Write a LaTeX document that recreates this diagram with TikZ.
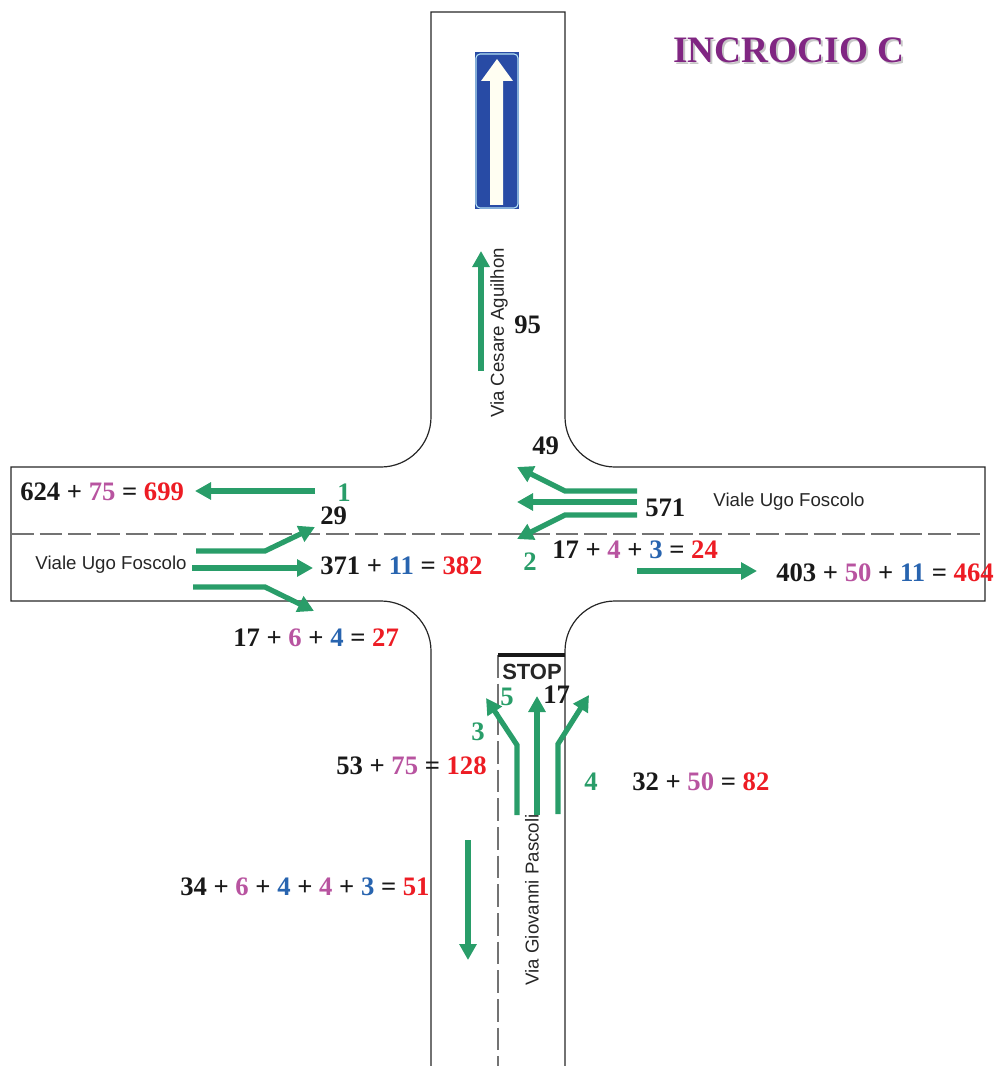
\documentclass[tikz,border=0pt]{standalone}
\usepackage{fontspec}
\setmainfont{Liberation Serif}
\setsansfont{Liberation Sans}
\usetikzlibrary{arrows.meta,positioning,calc}
\definecolor{roadgreen}{RGB}{41,157,105}
\definecolor{flowpink}{RGB}{184,84,160}
\definecolor{flowblue}{RGB}{40,100,175}
\definecolor{flowred}{RGB}{237,28,36}
\definecolor{titlepurple}{RGB}{128,38,130}
\definecolor{signblue}{RGB}{40,75,165}
\newcommand{\pk}[1]{\textcolor{flowpink}{#1}}
\newcommand{\bl}[1]{\textcolor{flowblue}{#1}}
\newcommand{\rd}[1]{\textcolor{flowred}{#1}}
\begin{document}
\begin{tikzpicture}[x=0.75pt, y=-0.75pt]
  \tikzstyle{road}=[draw=black!85, line width=0.9pt]
  \tikzstyle{lane}=[draw=black!55, line width=1.1pt, dash pattern=on 17pt off 4.5pt]
  \tikzstyle{flow}=[draw=roadgreen, line width=3.9pt, -{Triangle[length=12pt,width=12.5pt]}]
  \tikzstyle{count}=[font=\fontsize{20}{22}\selectfont\bfseries, text=black!90, inner sep=0pt, anchor=base west]
  \tikzstyle{tag}=[font=\fontsize{20}{22}\selectfont\bfseries, text=roadgreen, inner sep=0pt, anchor=base]
  \tikzstyle{street}=[font=\sffamily\fontsize{14}{16}\selectfont, text=black!85, inner sep=0pt]
  \useasboundingbox (0,0) rectangle (996,1066);

  % Strade
  \draw[road] (431,1066) -- (431,651) arc[start angle=0, end angle=90, radius=50*0.75pt] -- (11,601) -- (11,467)
    -- (381,467) arc[start angle=-90, end angle=0, radius=50*0.75pt] -- (431,12) -- (565,12) -- (565,417)
    arc[start angle=180, end angle=270, radius=50*0.75pt] -- (985,467) -- (985,601) -- (615,601)
    arc[start angle=90, end angle=180, radius=50*0.75pt] -- (565,1066);
  \draw[lane] (11,534) -- (985,534);
  \draw[lane] (498,655) -- (498,1066);
  \draw[black!90, line width=3pt] (498,655) -- (565,655);

  % Segnale
  \fill[signblue] (475,52) rectangle (519,209);
  \draw[black!10!cyan!30, line width=0.8pt, rounded corners=3pt] (476,54) rectangle (518,208);
  \fill[white!95!yellow] (490,205) -- (490,81) -- (481,81) -- (497,59) -- (513,81) -- (503,81) -- (503,205) -- cycle;

  % Frecce
  \draw[flow] (481,371) -- (481,251);
  \draw[flow] (315,491) -- (195,491);
  \draw[flow] (196,551) -- (265,551) -- (315,527);
  \draw[flow] (192,568) -- (313,568);
  \draw[flow] (193,587) -- (265,587) -- (314,611);
  \draw[flow] (637,491) -- (565,491) -- (517,467);
  \draw[flow] (637,502) -- (517,502);
  \draw[flow] (637,515) -- (565,515) -- (517,539);
  \draw[flow] (637,571) -- (757,571);
  \draw[flow] (517,815) -- (517,745) -- (486,698);
  \draw[flow] (537,815) -- (537,696);
  \draw[flow] (558,814) -- (558,744) -- (589,695);
  \draw[flow] (468,840) -- (468,960);

  % Titolo
  \node[font=\fontsize{28}{30}\selectfont\bfseries, text=black!22, inner sep=0pt] (titleshadow) at (791,52) {INCROCIO C};
  \node[font=\fontsize{28}{30}\selectfont\bfseries, text=titlepurple, inner sep=0pt] (title) at (789,50) {INCROCIO C};

  % Nomi delle strade
  \node[street, rotate=90] (cesare) at (499,333) {Via Cesare Aguilhon};
  \node[street] (ugoeast) at (789,502) {Viale Ugo Foscolo};
  \node[street] (ugowest) at (111,565) {Viale Ugo Foscolo};
  \node[street, rotate=90] (pascoli) at (532,900) {Via Giovanni Pascoli};
  \node[font=\sffamily\bfseries\fontsize{16.5}{18}\selectfont, text=black!85, inner sep=0pt] (stop) at (532,672) {STOP};

  % Conteggi
  \node[count] (n95) at (514,333) {95};
  \node[count] (n49) at (532,454) {49};
  \node[count] (n571) at (645,516) {571};
  \node[count] (n29) at (320,524) {29};
  \node[count] (n17) at (543,703) {17};
  \node[count] (west) at (20,500) {624 + \pk{75} = \rd{699}};
  \node[count] (through) at (320,574) {371 + \bl{11} = \rd{382}};
  \node[count] (right) at (233,646) {17 + \pk{6} + \bl{4} = \rd{27}};
  \node[count] (left) at (552,558) {17 + \pk{4} + \bl{3} = \rd{24}};
  \node[count] (east) at (776,581) {403 + \pk{50} + \bl{11} = \rd{464}};
  \node[count] (south) at (336,774) {53 + \pk{75} = \rd{128}};
  \node[count] (southeast) at (632,790) {32 + \pk{50} = \rd{82}};
  \node[count] (down) at (180,895) {34 + \pk{6} + \bl{4} + \pk{4} + \bl{3} = \rd{51}};

  % Numeri delle manovre
  \node[tag] (m1) at (344,501) {1};
  \node[tag] (m2) at (530,570) {2};
  \node[tag] (m3) at (478,740) {3};
  \node[tag] (m4) at (591,790) {4};
  \node[tag] (m5) at (507,705) {5};
\end{tikzpicture}
\end{document}
